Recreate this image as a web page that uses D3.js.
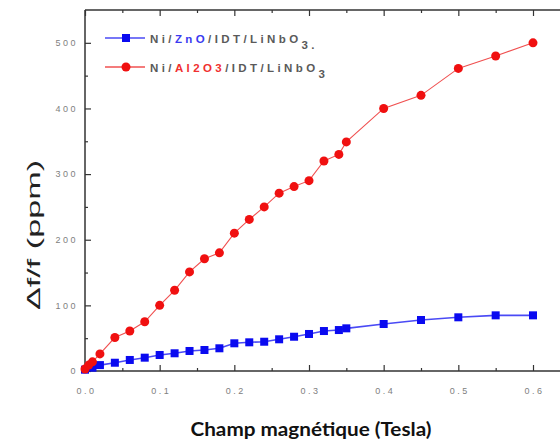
<!DOCTYPE html>
<html><head><meta charset="utf-8">
<script src="https://cdn.jsdelivr.net/npm/d3@7"></script>
<style>body{margin:0;background:#fff}svg{display:block}</style>
</head><body>
<svg id="c" width="560" height="446"></svg>
<script>
const xValsBlue = [0, 0.01, 0.02, 0.04, 0.06, 0.08, 0.1, 0.12, 0.14, 0.16, 0.18, 0.2, 0.22, 0.24, 0.26, 0.28, 0.3, 0.32, 0.34, 0.35, 0.4, 0.45, 0.5, 0.55, 0.6];
const blueValues = [2, 5, 9, 12.6, 16.8, 20.3, 24.4, 27, 30.5, 32, 34.6, 42.2, 43.7, 44.6, 48.3, 52.2, 56.4, 60.9, 62.4, 65, 71.6, 77.7, 81.8, 84.8, 84.8];
const xValsRed = [0, 0.005, 0.01, 0.02, 0.04, 0.06, 0.08, 0.1, 0.12, 0.14, 0.16, 0.18, 0.2, 0.22, 0.24, 0.26, 0.28, 0.3, 0.32, 0.34, 0.35, 0.4, 0.45, 0.5, 0.55, 0.6];
const redValues = [3, 9, 14, 26, 51, 61, 75, 100, 123, 151, 171, 180, 210, 231, 250, 271, 281, 290, 320, 330, 349, 400, 420, 461, 480, 500];
const xTicks = [0, 0.1, 0.2, 0.3, 0.4, 0.5, 0.6];
const xTickLabels = ["0.0", "0.1", "0.2", "0.3", "0.4", "0.5", "0.6"];
const xMinorTicks = [0.05, 0.15, 0.25, 0.35, 0.45, 0.55];
const yTicks = [0, 100, 200, 300, 400, 500];
const yMinorTicks = [50, 150, 250, 350, 450];
const xTitle = "Champ magnétique (Tesla)";
const yTitle = "Δf/f (ppm)";

const svg = d3.select("#c");
const x = d3.scaleLinear().domain([0, 0.6]).range([85, 533]);
const y = d3.scaleLinear().domain([0, 550]).range([371, 10]);
const axCol = "#333";

// frame lines
svg.append("line").attr("x1", 85).attr("x2", 560).attr("y1", y(0)).attr("y2", y(0)).attr("stroke", axCol).attr("stroke-width", 1.5);
svg.append("line").attr("x1", 85).attr("x2", 560).attr("y1", y(550)).attr("y2", y(550)).attr("stroke", axCol).attr("stroke-width", 1.5);
svg.append("line").attr("x1", 85).attr("x2", 85).attr("y1", y(0)).attr("y2", y(550)).attr("stroke", axCol).attr("stroke-width", 1.5);

function styleAxis(g) {
  g.select(".domain").remove();
  g.selectAll(".tick line").attr("stroke", axCol).attr("stroke-width", 1.2);
  g.selectAll(".tick text").attr("fill", "#808080").attr("font-family", "Liberation Sans, Arial, sans-serif")
    .attr("font-size", 9).attr("letter-spacing", "2.5px");
}

// bottom axis
const gb = svg.append("g").attr("transform", `translate(0,${y(0)})`)
  .call(d3.axisBottom(x).tickValues(xTicks).tickSize(-6).tickPadding(17).tickFormat((d, i) => xTickLabels[i]));
styleAxis(gb);
gb.selectAll(".tick text").attr("dx", "1px");
svg.append("g").attr("transform", `translate(0,${y(0)})`)
  .call(d3.axisBottom(x).tickValues(xMinorTicks).tickSize(-3).tickFormat("")).call(styleAxis);
// top axis
svg.append("g").attr("transform", `translate(0,${y(550)})`)
  .call(d3.axisTop(x).tickValues(xTicks).tickSize(-6).tickFormat("")).call(styleAxis);
svg.append("g").attr("transform", `translate(0,${y(550)})`)
  .call(d3.axisTop(x).tickValues(xMinorTicks).tickSize(-3).tickFormat("")).call(styleAxis);
// left axis
const gl = svg.append("g").attr("transform", `translate(85,0)`)
  .call(d3.axisLeft(y).tickValues(yTicks).tickSize(-6).tickPadding(7).tickFormat(d3.format("d")));
styleAxis(gl);
svg.append("g").attr("transform", `translate(85,0)`)
  .call(d3.axisLeft(y).tickValues(yMinorTicks).tickSize(-3).tickFormat("")).call(styleAxis);

// series
const blueData = xValsBlue.map((v, i) => [v, blueValues[i]]);
const redData = xValsRed.map((v, i) => [v, redValues[i]]);
const line = d3.line().x(d => x(d[0])).y(d => y(d[1]));
const blueC = "#0a0af0", redC = "#f01010";

svg.append("path").datum(blueData).attr("d", line).attr("fill", "none").attr("stroke", "#4a4af5").attr("stroke-width", 1.6);
svg.append("g").selectAll("rect").data(blueData).join("rect")
  .attr("x", d => x(d[0]) - 4).attr("y", d => y(d[1]) - 4).attr("width", 8).attr("height", 8).attr("fill", blueC);

svg.append("path").datum(redData).attr("d", line).attr("fill", "none").attr("stroke", "#f05050").attr("stroke-width", 1.1);
svg.append("g").selectAll("circle").data(redData).join("circle")
  .attr("cx", d => x(d[0])).attr("cy", d => y(d[1])).attr("r", 4.5).attr("fill", redC);

// legend
const legFont = "Liberation Sans, Arial, sans-serif";
function legendItem(yy, color, isCircle, parts) {
  svg.append("line").attr("x1", 105).attr("x2", 145).attr("y1", yy).attr("y2", yy).attr("stroke", isCircle ? "#f05050" : "#4a4af5").attr("stroke-width", 1.6);
  if (isCircle) svg.append("circle").attr("cx", 126).attr("cy", yy).attr("r", 4.5).attr("fill", color);
  else svg.append("rect").attr("x", 122).attr("y", yy - 4).attr("width", 8).attr("height", 8).attr("fill", color);
  const t = svg.append("text").attr("x", 150).attr("y", yy + 4.5).attr("font-family", legFont).attr("font-size", 11.5)
    .attr("letter-spacing", "3.4px").attr("font-weight", "bold");
  parts.forEach(p => {
    const ts = t.append("tspan").text(p.t).attr("fill", p.c);
    if (p.dy) ts.attr("dy", p.dy);
  });
}
legendItem(38, blueC, false, [
  {t: "Ni/", c: "#5a5a5a"}, {t: "ZnO", c: "#3a3af0"}, {t: "/IDT/LiNbO", c: "#5a5a5a"}, {t: "3", c: "#5a5a5a", dy: 6}, {t: ".", c: "#5a5a5a"}
]);
legendItem(67, redC, true, [
  {t: "Ni/", c: "#5a5a5a"}, {t: "Al2O3", c: "#f03030"}, {t: "/IDT/LiNbO", c: "#5a5a5a"}, {t: "3", c: "#5a5a5a", dy: 6}
]);

// titles
svg.append("text").attr("x", 311).attr("y", 436).attr("text-anchor", "middle")
  .attr("font-family", "Lato, 'Open Sans', sans-serif").attr("font-weight", "bold").attr("font-size", 19)
  .attr("textLength", 241).attr("lengthAdjust", "spacingAndGlyphs")
  .attr("fill", "#111").text(xTitle);
svg.append("text").attr("transform", "translate(40,235) rotate(-90) scale(1.9,1)").attr("text-anchor", "middle")
  .attr("font-family", "Liberation Sans, Arial, sans-serif").attr("font-size", 18)
  .attr("fill", "#222").text(yTitle);
</script>
</body></html>
